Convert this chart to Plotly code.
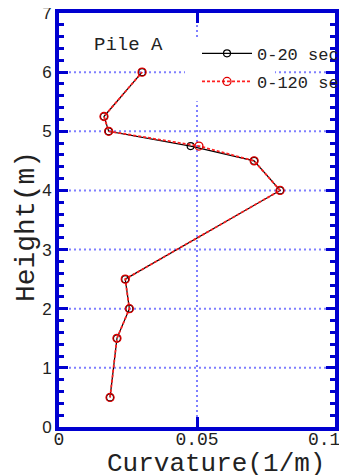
import plotly.graph_objects as go

height = [0.5, 1.5, 2.0, 2.5, 4.0, 4.5, 4.75, 5.0, 5.25, 6.0]
curv_20 = [0.0185, 0.021, 0.0255, 0.024, 0.0801, 0.0707, 0.0477, 0.018, 0.0163, 0.0301]
curv_120 = [0.0185, 0.021, 0.0255, 0.024, 0.0801, 0.0707, 0.0507, 0.018, 0.0163, 0.0301]
x_ticks = [0, 0.05, 0.1]
x_ticktext = ["0", "0.05", "0.1\u00a0\u00a0"]
y_ticks = [0, 1, 2, 3, 4, 5, 6, 7]

BLUE = "#0000d0"
GRID = "#8080ff"
TXT = "#222222"
MONO = "Liberation Mono, Courier New, monospace"
SANS = "Liberation Sans, Arial, sans-serif"

fig = go.Figure()
fig.add_trace(go.Scatter(
    x=curv_20, y=height, mode="lines+markers", name="0-20 sec",
    legendgroup="a",
    line=dict(color="black", width=1.2),
    marker=dict(symbol="circle-open", size=7, color="black", line=dict(width=1.2)),
))
fig.add_trace(go.Scatter(
    x=curv_120, y=height, mode="lines+markers", name="0-120 sec",
    legendgroup="b",
    line=dict(color="#ff2020", width=1.8, dash="3px,2px"),
    marker=dict(symbol="circle-open", size=8, color="#e00000", line=dict(width=1.3)),
))

# page body has an 8px margin, so the figure is sized/placed to compensate
fig.update_layout(
    width=339, height=467,
    margin=dict(l=51, r=12, t=5, b=48, autoexpand=False),
    paper_bgcolor="white", plot_bgcolor="white",
    showlegend=True,
    legend=dict(
        x=0.50, y=0.945, xanchor="left", yanchor="top",
        bgcolor="rgba(0,0,0,0)", borderwidth=0,
        font=dict(family=MONO, size=17, color=TXT),
        tracegroupgap=3, itemwidth=50,
    ),
    xaxis=dict(
        range=[0, 0.1], tickvals=x_ticks, ticktext=x_ticktext,
        showgrid=False, zeroline=False,
        showline=True, linecolor=BLUE, linewidth=4, mirror="ticks",
        ticks="inside", ticklen=10, tickwidth=3, tickcolor=BLUE,
        tickfont=dict(family=MONO, size=18, color=TXT),
        ticklabelstandoff=-8, ticklabeloverflow="allow",
    ),
    yaxis=dict(
        range=[0, 7], tickvals=y_ticks,
        showgrid=False, zeroline=False,
        showline=True, linecolor=BLUE, linewidth=4, mirror="ticks",
        ticks="inside", ticklen=9, tickwidth=3, tickcolor=BLUE,
        minor=dict(dtick=0.2, ticks="inside", ticklen=5, tickwidth=3, tickcolor=BLUE, showgrid=False),
        tickfont=dict(family=SANS, size=17, color=TXT),
        ticklabelstandoff=0, ticklabeloverflow="allow",
    ),
)

# dotted grid lines at the labelled values
for yv in y_ticks[1:-1]:
    fig.add_hline(y=yv, line=dict(color=GRID, width=2, dash="2px,3px"), layer="below")
fig.add_vline(x=x_ticks[1], line=dict(color=GRID, width=2, dash="2px,3px"), layer="below")

# white area behind legend samples hides the grid there
fig.add_shape(type="rect", xref="paper", yref="paper",
              x0=0.4565, x1=0.7826, y0=0.787, y1=0.942,
              fillcolor="white", line=dict(width=0), layer="below")

fig.add_annotation(text="Pile A", xref="paper", yref="paper", x=0.12, y=0.955,
                   xanchor="left", yanchor="top", showarrow=False,
                   font=dict(family=MONO, size=19, color=TXT))
fig.add_annotation(text="Curvature(1/m)", xref="paper", yref="paper", x=0.569, y=-0.089,
                   xanchor="center", yanchor="middle", showarrow=False,
                   font=dict(family=MONO, size=26, color=TXT))
fig.add_annotation(text="Height(m)", xref="paper", yref="paper", x=-0.12, y=0.485,
                   xanchor="center", yanchor="middle", showarrow=False, textangle=-90,
                   font=dict(family=MONO, size=28, color=TXT))

fig.write_html("out.html")
